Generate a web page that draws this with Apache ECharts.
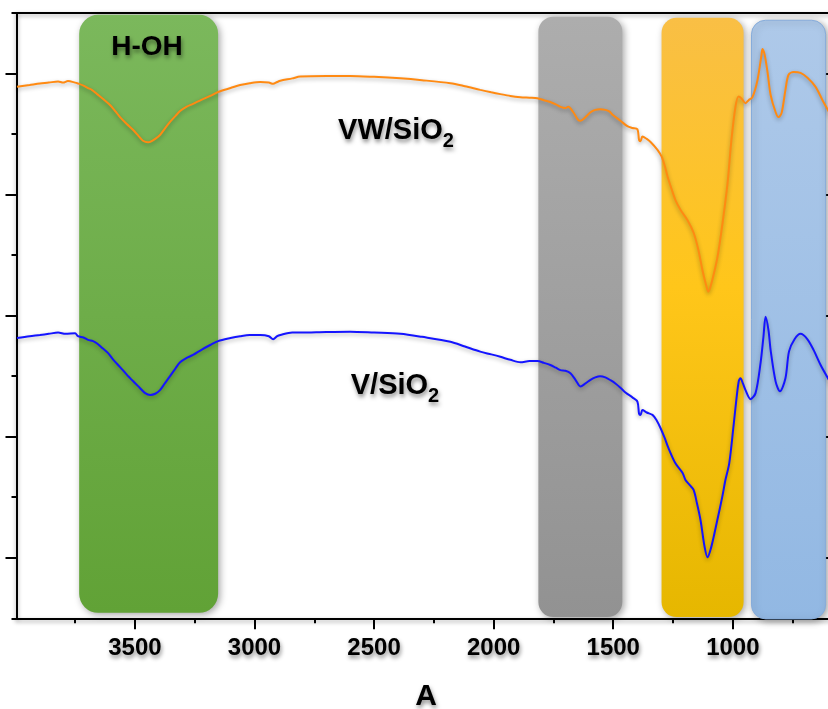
<!DOCTYPE html>
<html><head><meta charset="utf-8">
<script src="https://cdn.jsdelivr.net/npm/echarts@6/dist/echarts.min.js"></script>
<style>html,body{margin:0;padding:0;background:#fff;overflow:hidden;width:828px;height:709px}#c{width:834px;height:709px}</style>
</head><body><div id="c"></div>
<script>
// VW/SiO2 (orange) spectrum: wavenumber (cm-1) and relative transmittance
const vwWavenumber = [3993,3940,3897,3860,3821,3800,3780,3750,3738,3715,3696,3680,3658,3630,3604,3580,3562,3535,3508,3485,3466,3445,3436,3415,3395,3375,3353,3330,3311,3285,3257,3220,3185,3152,3100,3060,3020,2976,2940,2922,2905,2892,2842,2809,2700,2600,2500,2390,2300,2181,2120,2056,2010,1972,1930,1888,1850,1817,1790,1763,1740,1721,1700,1688,1667,1646,1637,1616,1595,1575,1555,1533,1515,1503,1470,1441,1420,1399,1392,1386,1378,1360,1344,1315,1298,1285,1273,1255,1240,1219,1190,1164,1144,1127,1114,1102,1089,1064,1043,1022,1006,989,976,964,947,934,918,897,880,876,867,855,842,821,809,796,780,767,746,717,688,654,625,600,578];
const vwValues = [87.8,88.1,88.35,88.5,88.7,88.5,88.75,88.5,88.35,88.0,87.6,87.3,86.6,85.7,84.8,83.7,82.8,81.7,80.7,79.7,78.9,78.65,78.7,79.2,79.85,80.9,82.0,83.0,83.8,84.5,85.0,85.7,86.3,86.95,87.6,88.1,88.4,88.6,88.5,88.3,88.6,88.8,89.2,89.5,89.6,89.6,89.45,89.2,88.9,88.4,87.9,87.3,86.9,86.6,86.3,86.1,86.0,85.9,85.6,85.3,84.9,84.5,84.3,84.5,83.6,82.3,82.2,82.8,83.6,84.0,84.1,84.0,83.7,83.2,82.2,81.3,81.0,80.8,79.0,78.8,79.6,79.2,78.7,77.4,76.3,74.8,73.0,70.8,69.1,67.5,65.8,63.7,60.85,57.5,55.4,53.95,55.4,59.7,65.3,71.9,79.0,84.5,86.2,85.9,85.1,85.6,86.1,88.9,93.1,94.05,93.1,90.25,86.45,83.6,82.8,83.5,87.3,89.8,90.25,90.1,89.3,87.8,85.6,83.8,82.3];

// V/SiO2 (blue) spectrum
const vWavenumber = [3993,3940,3897,3860,3821,3790,3750,3738,3715,3696,3675,3658,3635,3612,3590,3562,3535,3508,3480,3457,3436,3415,3395,3375,3353,3330,3311,3285,3257,3220,3185,3152,3100,3060,3020,2976,2940,2922,2905,2892,2842,2809,2700,2600,2500,2390,2300,2181,2120,2056,2010,1972,1930,1888,1850,1817,1790,1763,1740,1721,1700,1679,1658,1637,1616,1595,1575,1555,1533,1510,1491,1470,1449,1420,1399,1392,1386,1378,1360,1336,1320,1302,1285,1269,1240,1210,1198,1180,1164,1150,1135,1118,1106,1090,1065,1044,1031,1015,997,985,975,968,958,947,926,905,884,872,863,851,842,821,803,780,765,742,717,688,662,633,600,578];
const vValues = [46.3,46.6,46.8,47.0,47.2,47.0,47.1,46.6,46.4,46.0,45.8,45.4,44.6,43.8,42.7,41.5,40.3,39.2,38.1,37.2,36.9,37.1,37.7,38.8,40.0,41.3,42.3,43.0,43.5,44.4,45.15,45.8,46.3,46.6,46.8,46.8,46.6,46.1,46.6,46.8,47.2,47.2,47.3,47.35,47.2,47.0,46.5,45.7,44.9,44.05,43.6,43.2,42.7,42.3,42.5,42.5,42.2,41.85,41.4,41.0,40.9,40.5,39.4,38.3,38.8,39.4,39.8,40.0,39.8,39.3,38.8,38.1,37.3,36.5,35.8,33.8,33.6,34.4,34.0,33.6,32.8,31.4,29.8,28.1,25.6,24.0,22.85,22.0,21.2,19.0,16.2,11.8,10.1,11.8,16.2,20.1,22.85,25.6,31.8,36.2,39.2,39.65,38.8,37.7,36.2,37.2,42.2,46.5,49.8,47.6,44.3,39.1,37.5,39.65,44.1,46.1,47.0,46.1,44.3,41.85,39.5,38.0];

// axis ticks
const xMajorTicks = [3500,3000,2500,2000,1500,1000];
const xMinorTicks = [3750,3250,2750,2250,1750,1250,750];
const yMajorTicks = [10,30,50,70,90];
const yMinorTicks = [0,20,40,60,80,100];

// highlighted wavenumber regions
const bandNames = ['H-OH','','',''];
const bandStart = [3733,1813,1298,922];
const bandEnd = [3152,1462,955,612];
const bandTop = [99.7,99.4,99.2,98.8];
const bandBottom = [0.9,0.2,0.2,-0.1];

const FONT = '"Liberation Sans", Arial, sans-serif';
const bandStyles = [
  {r:19, stops:[{offset:0,color:'#7bb85c'},{offset:1,color:'#61a236'}]},
  {r:15, stops:[{offset:0,color:'#adadad'},{offset:1,color:'#929292'}]},
  {r:15, stops:[{offset:0,color:'#f9bf45'},{offset:0.45,color:'#ffc61a'},{offset:1,color:'#e6b700'}]},
  {r:14, stops:[{offset:0,color:'#aec9e9'},{offset:1,color:'#92b8e3'}], stroke:'#86acdb'}
];
const shadowText = {textShadowColor:'rgba(0,0,0,0.45)', textShadowBlur:4, textShadowOffsetX:1, textShadowOffsetY:3};
const axisLineStyle = {color:'#000', width:2, shadowColor:'rgba(0,0,0,0.35)', shadowBlur:4, shadowOffsetY:2};
const XMIN = 577, XMAX = 3995;

const chart = echarts.init(document.getElementById('c'), null, {renderer:'canvas'});
function xAx(extra){ return Object.assign({type:'value', min:XMIN, max:XMAX, inverse:true, splitLine:{show:false}, axisLabel:{show:false}, axisTick:{show:false}, axisLine:{show:false}}, extra); }
function yAx(extra){ return Object.assign({type:'value', min:0, max:100, splitLine:{show:false}, axisLabel:{show:false}, axisTick:{show:false}, axisLine:{show:false}}, extra); }

chart.setOption({
  animation:false,
  backgroundColor:'#fff',
  grid:{left:16.5, right:0, top:13, bottom:90.7, containLabel:false},
  xAxis:[
    xAx({position:'bottom', axisLine:{show:true, onZero:false, lineStyle:axisLineStyle},
      axisTick:{show:true, customValues:xMajorTicks, length:11, lineStyle:{color:'#000', width:2}},
      axisLabel:{show:true, customValues:xMajorTicks, formatter:function(v){return String(v);}, margin:18, fontSize:24, fontWeight:'bold', color:'#000', fontFamily:FONT,
        textShadowColor:'rgba(0,0,0,0.45)', textShadowBlur:4, textShadowOffsetX:1, textShadowOffsetY:3}}),
    xAx({position:'bottom', axisTick:{show:true, customValues:xMinorTicks, length:5, lineStyle:{color:'#000', width:2}}}),
    xAx({position:'top', axisLine:{show:true, onZero:false, lineStyle:axisLineStyle}})
  ],
  yAxis:[
    yAx({position:'left', axisLine:{show:true, onZero:false, lineStyle:axisLineStyle},
      axisTick:{show:true, customValues:yMajorTicks, length:11, lineStyle:{color:'#000', width:2}}}),
    yAx({position:'left', axisTick:{show:true, customValues:yMinorTicks, length:5, lineStyle:{color:'#000', width:2}}}),
    yAx({position:'right', axisLine:{show:true, onZero:false, lineStyle:axisLineStyle},
      axisTick:{show:true, inside:true, customValues:yMajorTicks, length:11, lineStyle:{color:'#000', width:2}}}),
    yAx({position:'right', axisTick:{show:true, inside:true, customValues:yMinorTicks, length:5, lineStyle:{color:'#000', width:2}}})
  ],
  series:[
    {
      type:'custom', name:'bands', xAxisIndex:0, yAxisIndex:0, z:1, clip:false,
      encode:{x:[0,1], y:[2,3]},
      data: bandStart.map((s,i)=>[s, bandEnd[i], bandTop[i], bandBottom[i]]),
      renderItem:function(params, api){
        const i = params.dataIndex;
        const a = api.coord([api.value(0), api.value(2)]);
        const b = api.coord([api.value(1), api.value(3)]);
        const x = Math.min(a[0], b[0]), y = Math.min(a[1], b[1]);
        const w = Math.abs(a[0]-b[0]), h = Math.abs(a[1]-b[1]);
        const st = bandStyles[i];
        return {type:'rect', shape:{x:x, y:y, width:w, height:h, r:st.r},
          style:{fill:new echarts.graphic.LinearGradient(0,0,0,1,st.stops), stroke:st.stroke||null, lineWidth:st.stroke?1:0,
            shadowBlur:7, shadowColor:'rgba(0,0,0,0.35)', shadowOffsetX:2, shadowOffsetY:2}};
      }
    },
    {
      type:'line', name:'VW/SiO2', xAxisIndex:0, yAxisIndex:0, z:3, showSymbol:false, smooth:0.3,
      data: vwWavenumber.map((w,i)=>[w, vwValues[i]]),
      lineStyle:{color:'#ff8a12', width:2, shadowColor:'rgba(0,0,0,0.3)', shadowBlur:4, shadowOffsetY:2}
    },
    {
      type:'line', name:'V/SiO2', xAxisIndex:0, yAxisIndex:0, z:3, showSymbol:false, smooth:0.3,
      data: vWavenumber.map((w,i)=>[w, vValues[i]]),
      lineStyle:{color:'#1414ff', width:2, shadowColor:'rgba(0,0,0,0.3)', shadowBlur:4, shadowOffsetY:2}
    }
  ],
  graphic:[
    {type:'text', x:147, y:47, z:10, style:Object.assign({text:bandNames[0], fontSize:28, fontWeight:'bold', fontFamily:FONT, fill:'#000', align:'center', verticalAlign:'middle'}, shadowText)},
    {type:'text', x:396, y:131, z:10, style:Object.assign({text:'{m|VW/SiO}{s|2}', align:'center', verticalAlign:'middle',
      rich:{m:Object.assign({fontSize:29, fontWeight:'bold', fontFamily:FONT, fill:'#000'}, shadowText),
            s:Object.assign({fontSize:20, fontWeight:'bold', fontFamily:FONT, fill:'#000', padding:[20,0,0,0]}, shadowText)}}, shadowText)},
    {type:'text', x:395, y:386, z:10, style:Object.assign({text:'{m|V/SiO}{s|2}', align:'center', verticalAlign:'middle',
      rich:{m:Object.assign({fontSize:29, fontWeight:'bold', fontFamily:FONT, fill:'#000'}, shadowText),
            s:Object.assign({fontSize:20, fontWeight:'bold', fontFamily:FONT, fill:'#000', padding:[20,0,0,0]}, shadowText)}}, shadowText)},
    {type:'text', x:426, y:697, z:10, style:Object.assign({text:'A', fontSize:30, fontWeight:'bold', fontFamily:FONT, fill:'#000', align:'center', verticalAlign:'middle'}, shadowText)}
  ]
});
</script>
</body></html>
